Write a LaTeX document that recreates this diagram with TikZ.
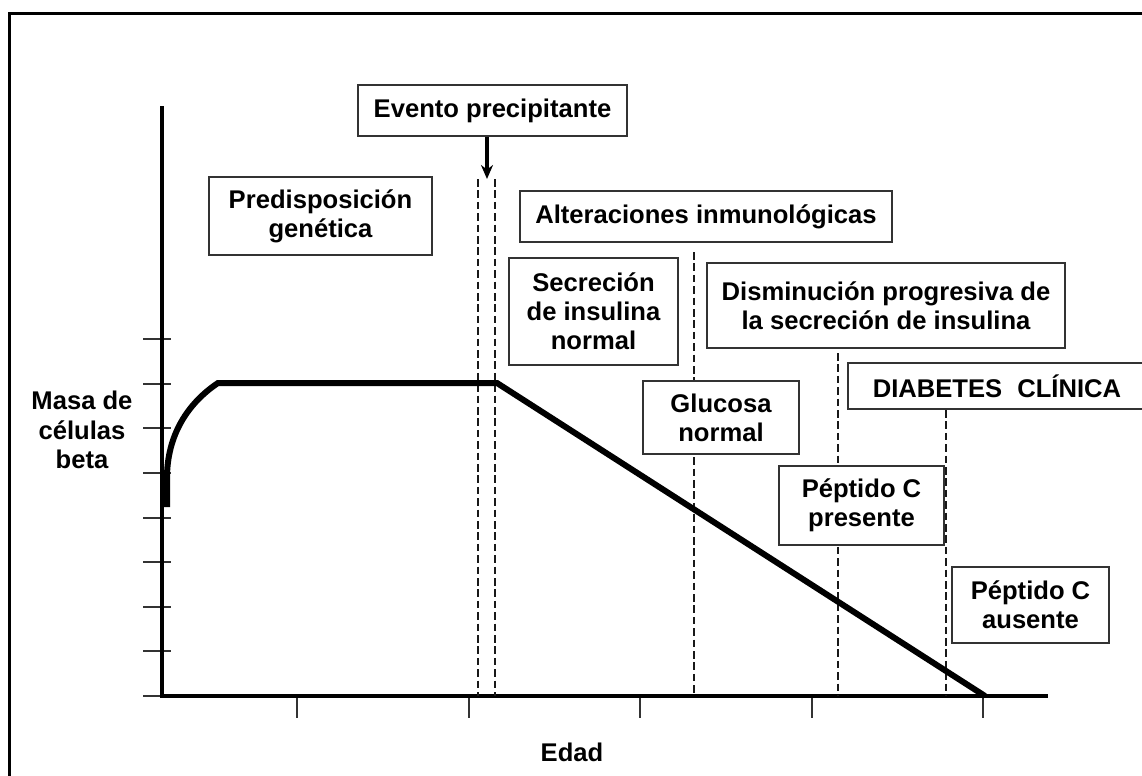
\documentclass[tikz,border=0pt]{standalone}
\usepackage{fontspec}
\setmainfont{Liberation Sans}
\usepackage{tikz}
\usetikzlibrary{backgrounds,shapes,arrows.meta}
\newcommand{\boxfont}{\fontsize{12.8}{14.6}\selectfont\bfseries}
\tikzstyle{stage}=[rectangle,fill=white,draw=black!80,line width=0.75pt,align=center,inner sep=0pt,font=\boxfont]
\tikzstyle{plain}=[inner sep=0pt,align=center,font=\boxfont]
\tikzstyle{axis}=[-,line width=2pt]
\tikzstyle{tick}=[-,draw=black!80,line width=1pt]
\tikzstyle{mass}=[-,line width=3pt,line join=miter]
\tikzstyle{phase}=[-,draw=black!90,line width=1.1pt,dash pattern=on 3.8pt off 1.9pt]
\tikzstyle{inarrow}=[-{Stealth[length=7pt,width=6pt]}, line width=1.6pt]
\tikzstyle{frame}=[-,line width=1.5pt]
\pgfdeclarelayer{edgelayer}
\pgfdeclarelayer{nodelayer}
\pgfsetlayers{edgelayer,nodelayer,main}
\begin{document}
\begin{tikzpicture}[x=0.5pt,y=-0.5pt]
	\useasboundingbox (0,0) rectangle (1142,776);
	\begin{pgfonlayer}{nodelayer}
		\node [style=stage, minimum width=134.5pt, minimum height=25.5pt] (evento) at (492.5,110.5) {Evento precipitante};
		\node [style=stage, minimum width=111.5pt, minimum height=39pt] (predisp) at (320.5,216) {Predisposición\\genética};
		\node [style=stage, minimum width=186pt, minimum height=25.5pt] (alter) at (706,216.5) {Alteraciones inmunológicas};
		\node [style=stage, minimum width=84.5pt, minimum height=53.5pt] (secrec) at (593.5,311.5) {Secreción\\de insulina\\normal};
		\node [style=stage, minimum width=179pt, minimum height=42.5pt] (dismin) at (886,305.5) {Disminución progresiva de\\la secreción de insulina};
		\node [style=stage, minimum width=149pt, minimum height=23pt] (diabetes) at (997,386) {DIABETES\hspace{4pt} CLÍNICA};
		\node [style=stage, minimum width=78pt, minimum height=36.5pt] (glucosa) at (721,417.5) {Glucosa\\normal};
		\node [style=stage, minimum width=82.5pt, minimum height=39.5pt] (pepPres) at (861.5,505.5) {Péptido C\\presente};
		\node [style=stage, minimum width=78.5pt, minimum height=38pt] (pepAus) at (1030.5,605) {Péptido C\\ausente};

		\node [style=plain] (masa) at (82,430) {Masa de\\células\\beta};
		\node [style=plain] (edad) at (572,752) {Edad};

		\coordinate (onset) at (487,179);
		\coordinate (O) at (162,696);
	\end{pgfonlayer}
	\begin{pgfonlayer}{edgelayer}
		% frame
		\draw [style=frame] (9,776) -- (9,13) -- (1142,13);
		% axes and ticks
		\foreach \i in {0,...,8}
			\draw [style=tick] (143,{696-44.6*\i}) -- (171,{696-44.6*\i});
		\foreach \i in {0,...,4}
			\draw [style=tick] ({297+171.5*\i},696) -- ({297+171.5*\i},718);
		\draw [style=axis] (162,106) -- (O) -- (1048,696);
		% phases
		\draw [style=phase] (478,179) -- (478,696);
		\draw [style=phase] (495,179) -- (495,696);
		\draw [style=phase] (694,252) -- (694,696);
		\draw [style=phase] (838,353) -- (838,696);
		\draw [style=phase] (946,410) -- (946,696);
		% beta cell mass
		\draw [style=mass] (167,507) -- (167,478) .. controls (167,435) and (188,403) .. (218,383) -- (497,383) -- (985,696);
		\draw [style=inarrow] (evento.south -| onset) to (onset);
	\end{pgfonlayer}
\end{tikzpicture}
\end{document}
